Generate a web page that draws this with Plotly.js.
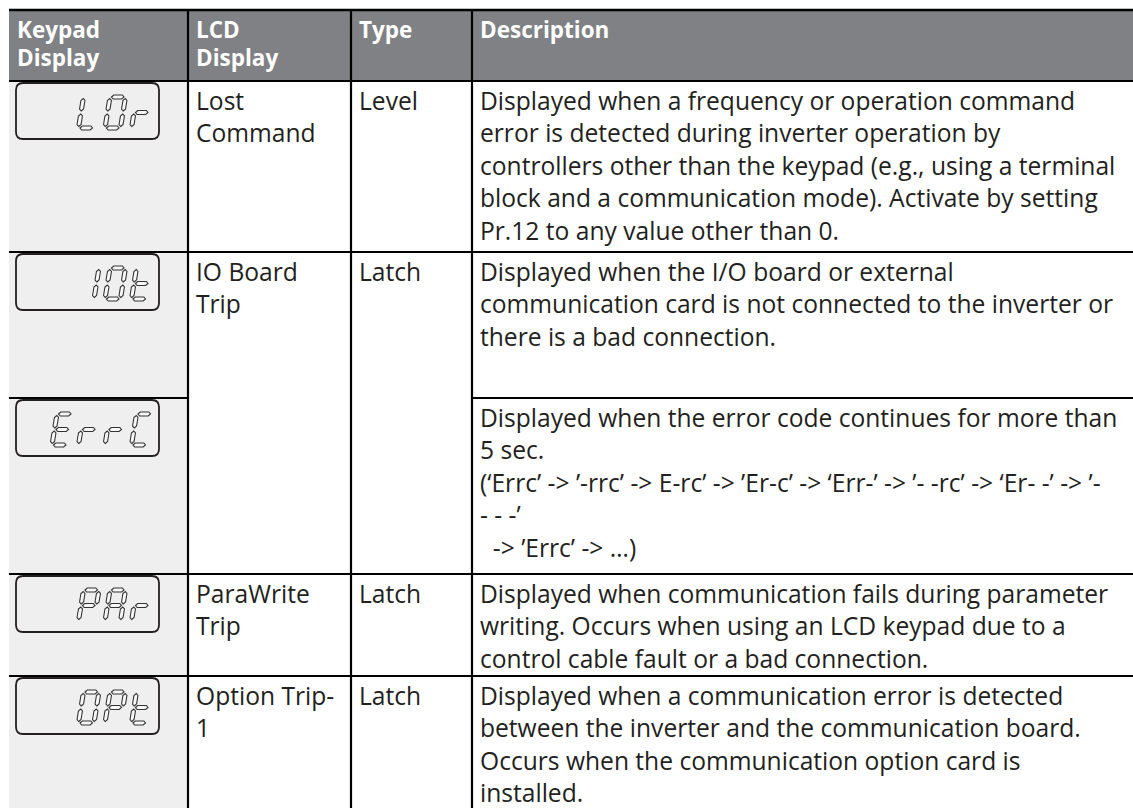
<!DOCTYPE html>
<html>
<head>
<meta charset="utf-8">
<script src="https://cdn.plot.ly/plotly-3.0.1.min.js"></script>
<style>
  html, body { margin: 0; padding: 0; background: #ffffff; }
  #chart { width: 1133px; height: 808px; }
</style>
</head>
<body>
<div id="chart"></div>
<script>
// ---------------- DATA ----------------
const headers = [["Keypad", "Display"], ["LCD", "Display"], ["Type"], ["Description"]];
const keypadCodes = ["LOr", "IOt", "ErrC", "PAr", "OPt"];
const lcdNames = [["Lost", "Command"], ["IO Board", "Trip"], null, ["ParaWrite", "Trip"], ["Option Trip-", "1"]];
const faultTypes = ["Level", "Latch", null, "Latch", "Latch"];
const descriptions = [
  ["Displayed when a frequency or operation command",
   "error is detected during inverter operation by",
   "controllers other than the keypad (e.g., using a terminal",
   "block and a communication mode). Activate by setting",
   "Pr.12 to any value other than 0."],
  ["Displayed when the I/O board or external",
   "communication card is not connected to the inverter or",
   "there is a bad connection."],
  ["Displayed when the error code continues for more than",
   "5 sec.",
   "(\u2018Errc\u2019 -> \u2019-rrc\u2019 -> E-rc\u2019 -> \u2019Er-c\u2019 -> \u2018Err-\u2019 -> \u2019- -rc\u2019 -> \u2018Er- -\u2019 -> \u2019-",
   "- - -\u2019",
   "\u00a0\u00a0-> \u2019Errc\u2019 -> \u2026)"],
  ["Displayed when communication fails during parameter",
   "writing. Occurs when using an LCD keypad due to a",
   "control cable fault or a bad connection."],
  ["Displayed when a communication error is detected",
   "between the inverter and the communication board.",
   "Occurs when the communication option card is",
   "installed."]
];
// 7-segment patterns for the keypad glyphs
const segmentPatterns = { L: "def", O: "abcdef", r: "eg", I: "bc", t: "defg", E: "adefg", C: "adef", P: "abefg", A: "abcefg" };

// ---------------- LAYOUT CONFIG ----------------
const W = 1133, H = 808;
const colX = [9, 188, 351, 472, 1133];
const headerTop = 10, headerBottom = 81;
const rowTops = [81, 252, 398, 574, 676, 830];
const textColor = "#231f20";
const FONT = "Open Sans, Noto Sans, sans-serif";
const bodySize = 24.6, headSize = 22.5;
const lineGap = 32.5, firstLine = 19, headFirst = 29, headGap = 28;
const padX = 7;

const shapes = [];
const annotations = [];

function line(x0, y0, x1, y1, w) {
  shapes.push({ type: "line", xref: "x", yref: "y", x0, y0, x1, y1, line: { color: "#000", width: w || 2 } });
}
function rect(x0, y0, x1, y1, fill) {
  shapes.push({ type: "rect", xref: "x", yref: "y", x0, y0, x1, y1, fillcolor: fill, line: { width: 0 }, layer: "below" });
}
function text(x, y, s, opts) {
  opts = opts || {};
  annotations.push({
    xref: "x", yref: "y", x, y, text: s, showarrow: false, xanchor: "left", yanchor: "middle", borderpad: 0,
    font: { family: FONT, size: opts.size || bodySize, color: opts.color || textColor, weight: opts.bold ? 700 : 400 }
  });
}

// backgrounds
rect(colX[0], headerTop, colX[4], headerBottom, "#808184");
rect(colX[0], headerBottom, colX[1], H + 20, "#efefef");

// header text
headers.forEach((lines, c) => {
  lines.forEach((s, i) => text(colX[c] + padX, headFirst + i * headGap, s, { size: headSize, bold: true, color: "#ffffff" }));
});

// body text
const nRows = keypadCodes.length;
for (let r = 0; r < nRows; r++) {
  const top = rowTops[r];
  if (lcdNames[r]) lcdNames[r].forEach((s, i) => text(colX[1] + padX, top + firstLine + i * lineGap, s));
  if (faultTypes[r]) text(colX[2] + padX, top + firstLine, faultTypes[r]);
  descriptions[r].forEach((s, i) => text(colX[3] + padX, top + firstLine + i * lineGap, s));
}

// keypad displays
function segPoly(seg, Wd, Hd, t, g) {
  const h = t / 2;
  const horiz = (vy) => [[g, vy], [g + h, vy + h], [Wd - g - h, vy + h], [Wd - g, vy], [Wd - g - h, vy - h], [g + h, vy - h]];
  const vert = (ux, v1, v2) => [[ux, v1 + g], [ux + h, v1 + g + h], [ux + h, v2 - g - h], [ux, v2 - g], [ux - h, v2 - g - h], [ux - h, v1 + g + h]];
  switch (seg) {
    case "a": return horiz(Hd);
    case "b": return vert(Wd, Hd / 2, Hd);
    case "c": return vert(Wd, 0, Hd / 2);
    case "d": return horiz(0);
    case "e": return vert(0, 0, Hd / 2);
    case "f": return vert(0, Hd / 2, Hd);
    case "g": return horiz(Hd / 2);
  }
}
const boxX0 = 16, boxX1 = 159, boxR = 7;
const digitW = 15.5, digitH = 31, slant = 5, segT = 4, segGap = 1.5, digitPitch = 26.5, digit0 = 52;
keypadCodes.forEach((code, r) => {
  const top = rowTops[r];
  const y1 = top + 2, y2 = top + 58;
  const p = `M ${boxX0 + boxR},${y1} L ${boxX1 - boxR},${y1} Q ${boxX1},${y1} ${boxX1},${y1 + boxR} L ${boxX1},${y2 - boxR} Q ${boxX1},${y2} ${boxX1 - boxR},${y2} L ${boxX0 + boxR},${y2} Q ${boxX0},${y2} ${boxX0},${y2 - boxR} L ${boxX0},${y1 + boxR} Q ${boxX0},${y1} ${boxX0 + boxR},${y1} Z`;
  shapes.push({ type: "path", xref: "x", yref: "y", path: p, line: { color: "#231f20", width: 1.8 }, fillcolor: "rgba(0,0,0,0)" });
  const chars = code.split("");
  const bottom = top + 47;
  chars.forEach((ch, k) => {
    const slot = 4 - chars.length + k;
    const x0 = digit0 + digitPitch * slot;
    segmentPatterns[ch].split("").forEach(seg => {
      const pts = segPoly(seg, digitW, digitH, segT, segGap).map(([u, v]) => [x0 + u + slant * v / digitH, bottom - v]);
      const path = "M " + pts.map(q => q[0].toFixed(2) + "," + q[1].toFixed(2)).join(" L ") + " Z";
      shapes.push({ type: "path", xref: "x", yref: "y", path, line: { color: "#333333", width: 1.1 }, fillcolor: "#f8f8f8" });
    });
  });
});

// grid lines
line(colX[0], headerTop, colX[4], headerTop, 2.6);
line(colX[0], headerBottom, colX[4], headerBottom, 2.2);
[1, 2, 3].forEach(c => line(colX[c], headerTop, colX[c], H + 20, 2.2));
for (let r = 1; r < nRows; r++) {
  const y = rowTops[r];
  if (lcdNames[r]) {
    line(colX[0], y, colX[4], y, 2);
  } else {
    line(colX[0], y, colX[1], y, 2);
    line(colX[3], y, colX[4], y, 2);
  }
}

const layout = {
  width: W, height: H,
  margin: { l: 0, r: 0, t: 0, b: 0 },
  paper_bgcolor: "#ffffff", plot_bgcolor: "#ffffff",
  showlegend: false,
  xaxis: { range: [0, W], visible: false, fixedrange: true },
  yaxis: { range: [H, 0], visible: false, fixedrange: true },
  shapes, annotations
};
Plotly.newPlot("chart", [{ type: "scatter", x: [], y: [], mode: "markers", hoverinfo: "skip" }], layout, { displayModeBar: false, staticPlot: true });
</script>
</body>
</html>
